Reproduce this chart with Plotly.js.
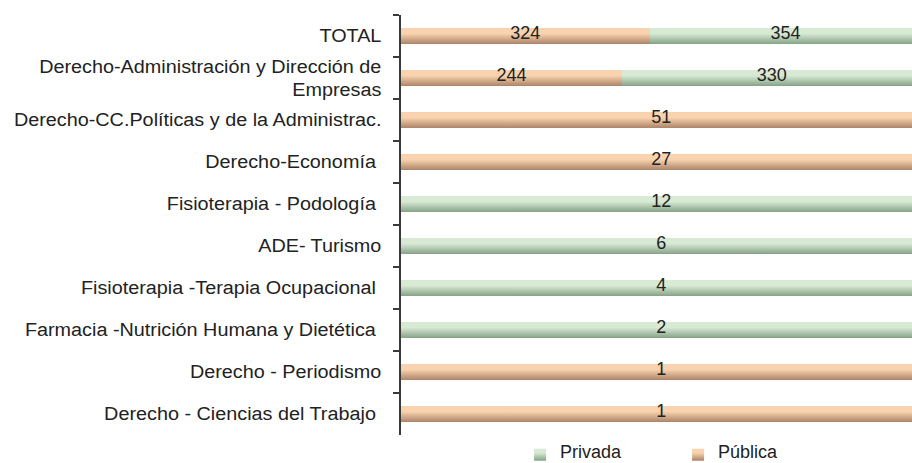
<!DOCTYPE html>
<html>
<head>
<meta charset="utf-8">
<script src="https://cdn.plot.ly/plotly-3.0.1.min.js"></script>
<style>html,body{margin:0;padding:0;background:#fff;}#chart{width:912px;height:463px;}</style>
</head>
<body>
<div id="chart"></div>
<script>
const categories = [
  "TOTAL",
  "Derecho-Administración y Dirección de<br>Empresas",
  "Derecho-CC.Políticas y de la Administrac.",
  "Derecho-Economía ",
  "Fisioterapia - Podología ",
  "ADE- Turismo",
  "Fisioterapia -Terapia Ocupacional ",
  "Farmacia -Nutrición Humana y Dietética ",
  "Derecho - Periodismo",
  "Derecho - Ciencias del Trabajo "
];
const publica = [324, 244, 51, 27, 0, 0, 0, 0, 1, 1];
const privada = [354, 330, 0, 0, 12, 6, 4, 2, 0, 0];

const FONT = "Liberation Sans, Arial, sans-serif";
const labels = arr => arr.map(v => v > 0 ? String(v) : "");

const common = {
  type: "bar",
  orientation: "h",
  y: categories,
  textposition: "inside",
  insidetextanchor: "middle",
  constraintext: "none",
  textangle: 0,
  textfont: {family: FONT, size: 18, color: "#222"},
  hoverinfo: "none"
};

const traces = [
  Object.assign({}, common, {name: "Pública", x: publica, text: labels(publica), marker: {color: "#e3b08f"}}),
  Object.assign({}, common, {name: "Privada", x: privada, text: labels(privada), marker: {color: "#b4cfb0"}})
];

const layout = {
  width: 912, height: 463,
  margin: {l: 401, r: 0, t: 15, b: 28, autoexpand: false},
  paper_bgcolor: "#fff", plot_bgcolor: "#fff",
  barmode: "stack",
  barnorm: "fraction",
  bargap: 0.62,
  font: {family: FONT, size: 18, color: "#222"},
  xaxis: {range: [0, 0.982], visible: false, fixedrange: true},
  yaxis: {
    autorange: "reversed",
    automargin: false,
    showline: true, linecolor: "#3a3a3a", linewidth: 2,
    ticks: "outside", ticklen: 6, tickwidth: 2, tickcolor: "#3a3a3a",
    tickson: "boundaries",
    ticklabelstandoff: 14,
    showgrid: false, zeroline: false,
    tickfont: {family: FONT, size: 18, color: "#222"}
  },
  showlegend: true,
  legend: {
    orientation: "h", traceorder: "reversed",
    xref: "paper", yref: "paper",
    x: 0.233, xanchor: "left", y: 0.006, yanchor: "top",
    entrywidth: 113, entrywidthmode: "pixels",
    font: {family: FONT, size: 18, color: "#222"},
    bgcolor: "rgba(0,0,0,0)"
  }
};

Plotly.newPlot("chart", traces, layout, {staticPlot: true}).then(gd => {
  const svg = gd.querySelector("svg.main-svg");
  const ns = "http://www.w3.org/2000/svg";
  let defs = svg.querySelector("defs");
  if (!defs) { defs = document.createElementNS(ns, "defs"); svg.insertBefore(defs, svg.firstChild); }
  const mk = (id, top, bottom) => {
    const g = document.createElementNS(ns, "linearGradient");
    g.setAttribute("id", id);
    g.setAttribute("x1", "0"); g.setAttribute("y1", "0");
    g.setAttribute("x2", "0"); g.setAttribute("y2", "1");
    [[0, top], [0.35, top], [1, bottom]].forEach(([o, c]) => {
      const s = document.createElementNS(ns, "stop");
      s.setAttribute("offset", o); s.setAttribute("stop-color", c);
      g.appendChild(s);
    });
    defs.appendChild(g);
  };
  mk("gPub", "#f9d3af", "#ac8468");
  mk("gPriv", "#d8e9d4", "#85a386");
  const ids = ["gPub", "gPriv"];
  gd.querySelectorAll(".barlayer .trace").forEach((t, i) => {
    t.querySelectorAll(".point path").forEach(p => { p.style.fill = "url(#" + ids[i] + ")"; });
    t.querySelectorAll("text.bartext").forEach(tx => {
      const tr = tx.getAttribute("transform") || "";
      tx.setAttribute("transform", tr + " translate(0,-3)");
    });
  });
  gd.querySelectorAll(".legend .traces").forEach(t => {
    const name = t.textContent.trim();
    const id = name.indexOf("Priv") === 0 ? "gPriv" : "gPub";
    t.querySelectorAll(".legendpoints").forEach(lp => {
      const tr = lp.getAttribute("transform") || "";
      lp.setAttribute("transform", tr + " translate(0,4)");
    });
    t.querySelectorAll(".legendpoints path").forEach(p => { p.style.fill = "url(#" + id + ")"; });
  });
  // slightly wider category labels, as in the reference
  const stretch = 1.1;
  gd.querySelectorAll(".yaxislayer-above .ytick text, .yaxislayer-above text.ytick").forEach(tx => {
    const lines = tx.querySelectorAll("tspan.line");
    const els = lines.length ? Array.from(lines) : [tx];
    els.forEach(el => {
      const w = el.getComputedTextLength();
      el.setAttribute("textLength", (w * stretch).toFixed(1));
      el.setAttribute("lengthAdjust", "spacingAndGlyphs");
    });
  });
});
</script>
</body>
</html>
